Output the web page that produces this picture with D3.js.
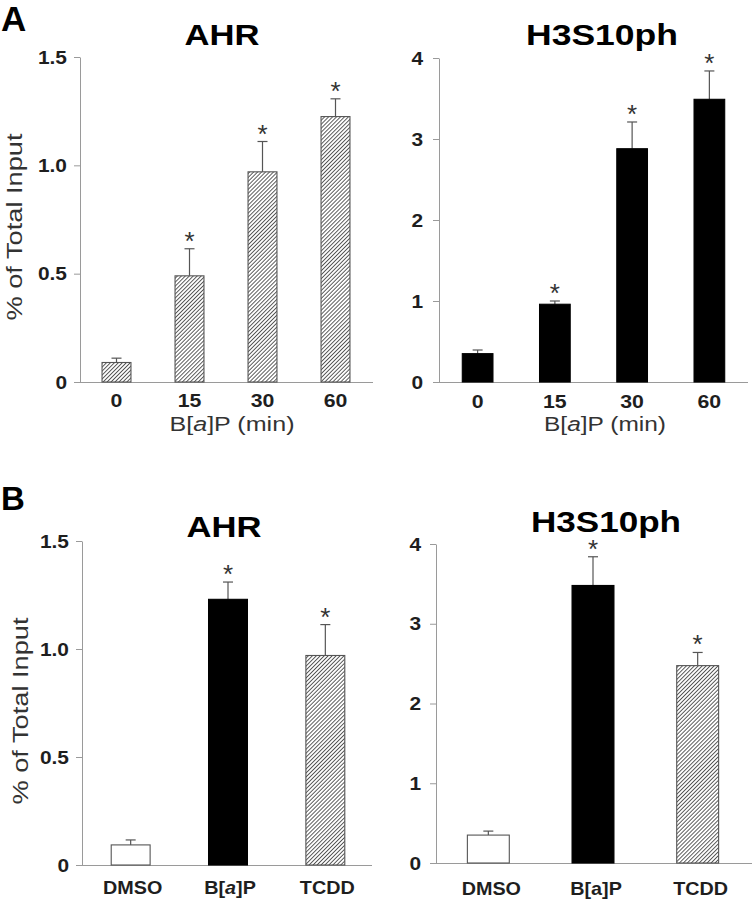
<!DOCTYPE html>
<html><head><meta charset="utf-8">
<script src="https://cdn.jsdelivr.net/npm/d3@7"></script>
<style>body{margin:0;background:#fff} svg{display:block}</style>
</head><body>
<script>
// ---------- data ----------
const timeCategories = ["0", "15", "30", "60"];
const ahrTimeMeans = [0.09, 0.49, 0.97, 1.225];
const ahrTimeErrors = [0.02, 0.125, 0.14, 0.082];
const ahrTimeSignificant = [false, true, true, true];
const ahrTimeFills = ["hatch", "hatch", "hatch", "hatch"];

const h3TimeMeans = [0.35, 0.96, 2.88, 3.49];
const h3TimeErrors = [0.045, 0.04, 0.33, 0.35];
const h3TimeSignificant = [false, true, true, true];
const h3TimeFills = ["black", "black", "black", "black"];

const treatmentCategories = ["DMSO", "B[a]P", "TCDD"];
const ahrTreatMeans = [0.093, 1.23, 0.97];
const ahrTreatErrors = [0.023, 0.08, 0.143];
const ahrTreatSignificant = [false, true, true];
const h3TreatMeans = [0.35, 3.48, 2.475];
const h3TreatErrors = [0.05, 0.36, 0.165];
const h3TreatSignificant = [false, true, true];
const treatFills = ["white", "black", "hatch"];

const ahrTicks = [0, 0.5, 1.0, 1.5];
const ahrTickLabels = ["0", "0.5", "1.0", "1.5"];
const h3Ticks = [0, 1, 2, 3, 4];
const h3TickLabels = ["0", "1", "2", "3", "4"];

const yAxisTitle = "% of Total Input";
const panelLetters = ["A", "B"];
const titles = ["AHR", "H3S10ph"];

// ---------- drawing ----------
const W = 752, H = 899;
const svg = d3.select("body").append("svg").attr("width", W).attr("height", H)
  .style("font-family", "'Liberation Sans', Arial, sans-serif");

const defs = svg.append("defs");
const pat = defs.append("pattern").attr("id", "hatch")
  .attr("patternUnits", "userSpaceOnUse").attr("width", 2.8).attr("height", 2.8)
  .attr("patternTransform", "rotate(45)");
pat.append("rect").attr("width", 2.8).attr("height", 2.8).attr("fill", "#fff");
pat.append("line").attr("x1", 1.4).attr("x2", 1.4).attr("y1", 0).attr("y2", 2.8)
  .attr("stroke", "#4a4a4a").attr("stroke-width", 0.9);

function addLabel(sel, label, italicA) {
  const m = label.match(/^(.*\[)(a)(\].*)$/);
  if (!m) { sel.text(label); return; }
  sel.append("tspan").text(m[1]);
  sel.append("tspan").text(m[2]).attr("font-style", italicA ? "italic" : "normal");
  sel.append("tspan").text(m[3]);
}

function stretch(sel, k) {
  sel.each(function () {
    const w = this.getComputedTextLength();
    if (w > 0) d3.select(this).attr("textLength", w * k).attr("lengthAdjust", "spacingAndGlyphs");
  });
}

function panel(cfg) {
  const x = d3.scaleBand().domain(cfg.cats).range(cfg.xRange)
    .paddingInner(0.59).paddingOuter(0.295);
  const y = d3.scaleLinear().domain([0, cfg.yMax]).range(cfg.yRange);
  const axisColor = "#9a9a9a";

  // y axis
  const g = svg.append("g").attr("transform", `translate(${cfg.xRange[0]},0)`);
  g.call(d3.axisLeft(y).tickValues(cfg.ticks)
    .tickFormat((d, i) => cfg.tickLabels[i])
    .tickSize(6).tickSizeOuter(0).tickPadding(cfg.tickPad));
  g.select(".domain").attr("stroke", axisColor);
  g.selectAll(".tick line").attr("stroke", axisColor);
  const tt = g.selectAll(".tick text").attr("fill", "#1e1e1e")
    .attr("font-size", 19).attr("font-weight", "bold")
    .attr("font-family", "'Liberation Sans', Arial, sans-serif");
  stretch(tt, 1.1);

  // x baseline
  svg.append("line").attr("x1", cfg.xRange[0] - 6).attr("x2", cfg.xLineEnd)
    .attr("y1", y(0) + 0.5).attr("y2", y(0) + 0.5)
    .attr("stroke", axisColor).attr("stroke-width", 1);

  const data = cfg.cats.map((c, i) => ({
    c, v: cfg.means[i], e: cfg.errs[i], s: cfg.sig[i], f: cfg.fills[i]
  }));

  // error bars
  const eb = svg.append("g").attr("stroke", "#555").attr("stroke-width", 1.2);
  data.forEach(d => {
    const cx = x(d.c) + x.bandwidth() / 2;
    eb.append("line").attr("x1", cx).attr("x2", cx)
      .attr("y1", y(d.v)).attr("y2", y(d.v + d.e));
    eb.append("line").attr("x1", cx - 5).attr("x2", cx + 5)
      .attr("y1", y(d.v + d.e)).attr("y2", y(d.v + d.e));
  });

  // bars
  svg.append("g").selectAll("rect").data(data).join("rect")
    .attr("x", d => x(d.c) + 0.5)
    .attr("y", d => y(d.v))
    .attr("width", x.bandwidth() - 1)
    .attr("height", d => y(0) - y(d.v))
    .attr("fill", d => d.f === "hatch" ? "url(#hatch)" : (d.f === "black" ? "#000" : "#fff"))
    .attr("stroke", d => d.f === "black" ? "#000" : "#555")
    .attr("stroke-width", 1.1);

  // asterisks
  svg.append("g").selectAll("text").data(data.filter(d => d.s)).join("text")
    .attr("x", d => x(d.c) + x.bandwidth() / 2)
    .attr("y", d => y(d.v + d.e) + 1)
    .attr("text-anchor", "middle").attr("font-size", 26).attr("fill", "#333")
    .text("*");

  // x category labels
  data.forEach(d => {
    const t = svg.append("text")
      .attr("x", x(d.c) + x.bandwidth() / 2 + cfg.catShift)
      .attr("y", cfg.catY).attr("text-anchor", "middle")
      .attr("font-size", 19).attr("font-weight", "bold").attr("fill", "#1e1e1e");
    addLabel(t, d.c, cfg.italicA);
    stretch(t, cfg.catStretch);
  });

  // title
  svg.append("text").attr("x", cfg.titleX).attr("y", cfg.titleY)
    .attr("text-anchor", "middle").attr("font-size", 29).attr("font-weight", "bold")
    .attr("fill", "#000").attr("textLength", cfg.titleLen).attr("lengthAdjust", "spacingAndGlyphs")
    .text(cfg.title);

  // x axis title
  if (cfg.xTitle) {
    const t = svg.append("text").attr("x", cfg.xTitleX).attr("y", cfg.xTitleY)
      .attr("text-anchor", "middle").attr("font-size", 20).attr("fill", "#333")
      .attr("textLength", cfg.xTitleLen).attr("lengthAdjust", "spacingAndGlyphs");
    addLabel(t, cfg.xTitle, true);
  }

  // y axis title
  if (cfg.yTitle) {
    svg.append("text")
      .attr("transform", `translate(${cfg.yTitleX},${cfg.yTitleY}) rotate(-90)`)
      .attr("text-anchor", "middle").attr("font-size", 22).attr("fill", "#333")
      .attr("textLength", 187).attr("lengthAdjust", "spacingAndGlyphs")
      .text(cfg.yTitle);
  }
}

// Panel A left
panel({
  cats: timeCategories, means: ahrTimeMeans, errs: ahrTimeErrors, sig: ahrTimeSignificant,
  fills: ahrTimeFills, yMax: 1.5, ticks: ahrTicks, tickLabels: ahrTickLabels,
  xRange: [80, 372], yRange: [382, 57], xLineEnd: 373, tickPad: 7,
  catY: 407, catShift: 0, catStretch: 1.12, italicA: true,
  title: titles[0], titleX: 222, titleY: 45, titleLen: 75,
  xTitle: "B[a]P (min)", xTitleX: 232, xTitleY: 431, xTitleLen: 125,
  yTitle: yAxisTitle, yTitleX: 22, yTitleY: 227
});
// Panel A right
panel({
  cats: timeCategories, means: h3TimeMeans, errs: h3TimeErrors, sig: h3TimeSignificant,
  fills: h3TimeFills, yMax: 4, ticks: h3Ticks, tickLabels: h3TickLabels,
  xRange: [439, 748], yRange: [382, 58], xLineEnd: 748, tickPad: 10,
  catY: 408, catShift: 0, catStretch: 1.12, italicA: true,
  title: titles[1], titleX: 602, titleY: 45, titleLen: 152,
  xTitle: "B[a]P (min)", xTitleX: 605, xTitleY: 431, xTitleLen: 122
});
// Panel B left
panel({
  cats: treatmentCategories, means: ahrTreatMeans, errs: ahrTreatErrors, sig: ahrTreatSignificant,
  fills: treatFills, yMax: 1.5, ticks: ahrTicks, tickLabels: ahrTickLabels,
  xRange: [82, 374], yRange: [865, 541], xLineEnd: 372, tickPad: 7,
  catY: 894, catShift: 2, catStretch: 1.04, italicA: true,
  title: titles[0], titleX: 224, titleY: 537, titleLen: 75,
  yTitle: yAxisTitle, yTitleX: 28, yTitleY: 711
});
// Panel B right
panel({
  cats: treatmentCategories, means: h3TreatMeans, errs: h3TreatErrors, sig: h3TreatSignificant,
  fills: treatFills, yMax: 4, ticks: h3Ticks, tickLabels: h3TickLabels,
  xRange: [436, 750], yRange: [863, 544], xLineEnd: 752, tickPad: 9,
  catY: 895, catShift: 3, catStretch: 1.04, italicA: false,
  title: titles[1], titleX: 606, titleY: 532, titleLen: 150
});

// panel letters
svg.append("text").attr("x", 1).attr("y", 31).attr("font-size", 35).attr("font-weight", "bold")
  .attr("fill", "#000").text(panelLetters[0]);
svg.append("text").attr("x", 1).attr("y", 510).attr("font-size", 33).attr("font-weight", "bold")
  .attr("fill", "#000").text(panelLetters[1]);
</script>
</body></html>
